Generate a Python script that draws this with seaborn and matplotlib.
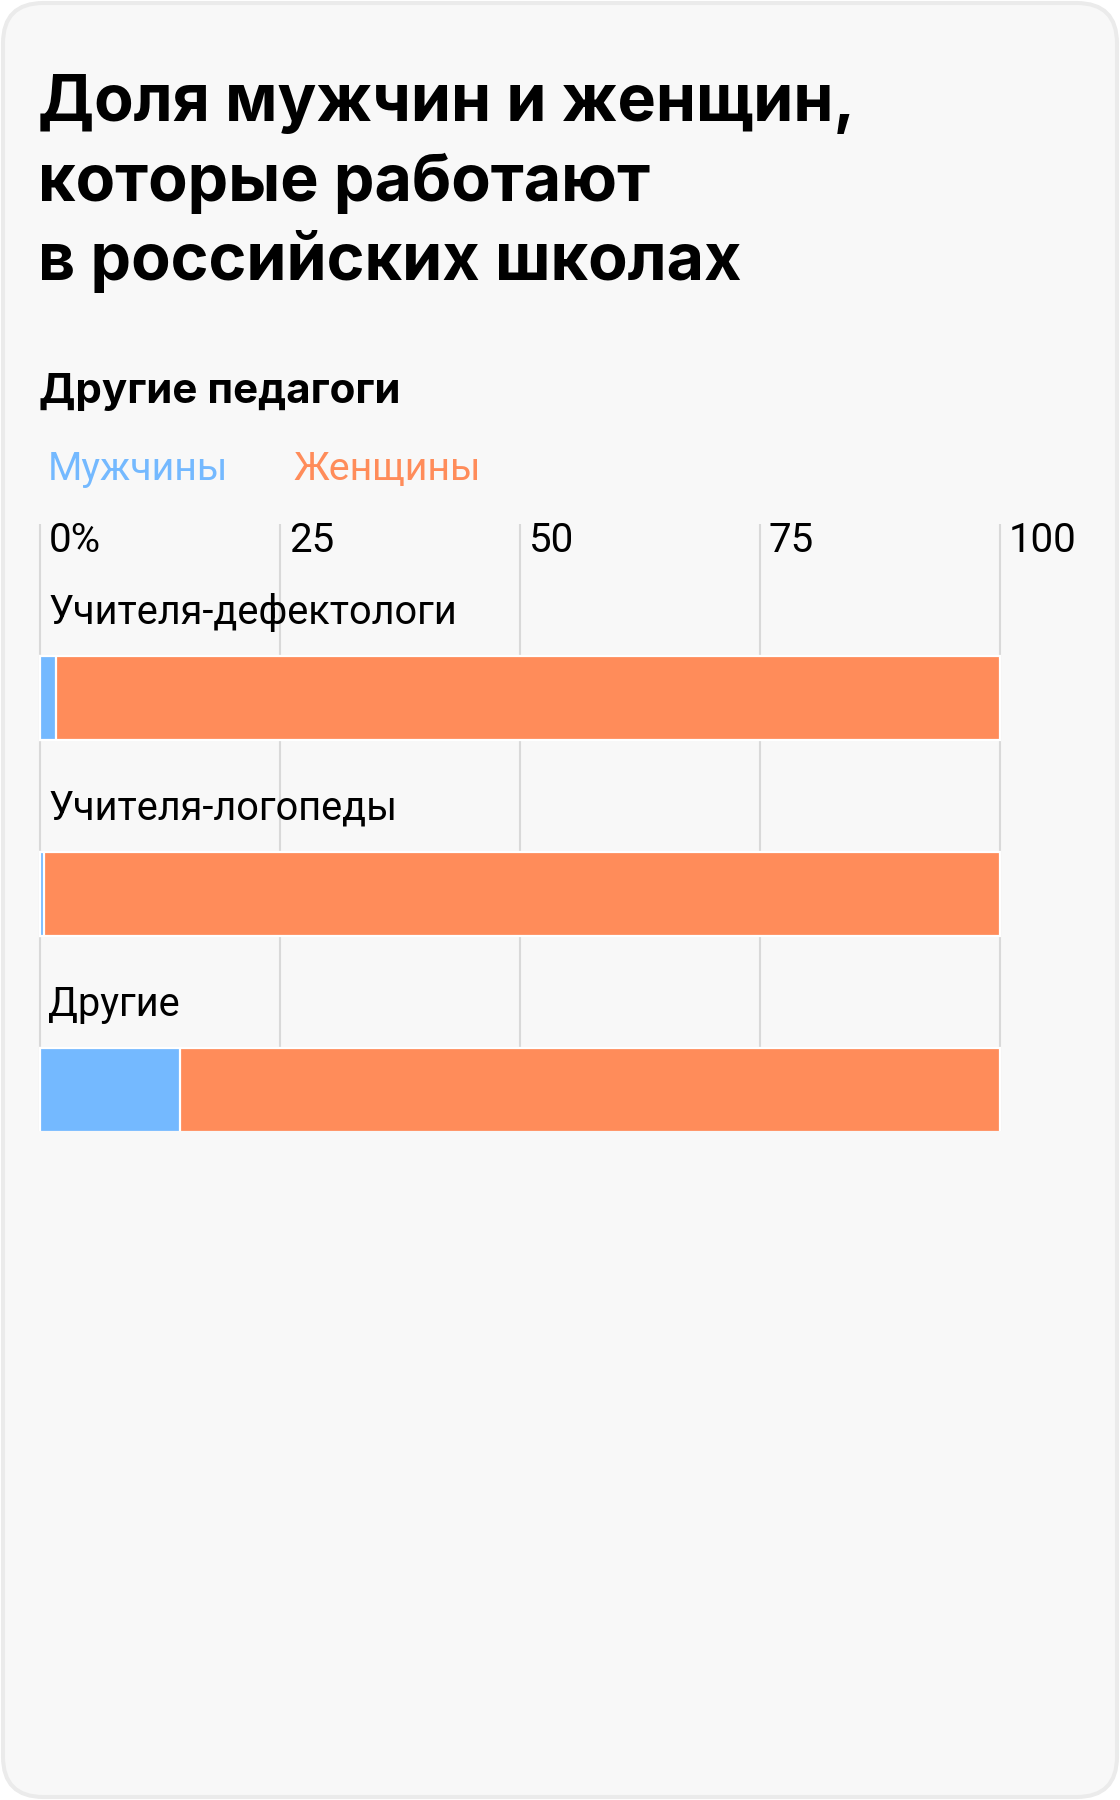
import matplotlib
matplotlib.use("Agg")
import matplotlib.pyplot as plt
import matplotlib.transforms as mtransforms
from matplotlib.patches import FancyBboxPatch
import seaborn as sns
import pandas as pd

# ---- data ----
categories = ["Учителя-дефектологи", "Учителя-логопеды", "Другие"]
men = [1.7, 0.4, 14.6]
women = [98.3, 99.6, 85.4]
tick_values = [0, 25, 50, 75, 100]
tick_labels = ["0%", "25", "50", "75", "100"]
title_lines = ["Доля мужчин и женщин,", "которые работают", "в российских школах"]
subtitle = "Другие педагоги"
legend_labels = ["Мужчины", "Женщины"]

BLUE = "#74B9FF"
ORANGE = "#FF8C5A"
GRID = "#D9D9D9"
BG = "#F8F8F8"

sns.set_theme(style="white")
plt.rcParams["font.family"] = ["Roboto", "DejaVu Sans"]

W, H, DPI = 1120, 1800, 100
fig = plt.figure(figsize=(W / DPI, H / DPI), dpi=DPI, facecolor="white")


def fx(px):
    return px / W


def fy(py):
    return 1 - py / H


# rounded card background
card = FancyBboxPatch((fx(3), fy(1797)), fx(1114), 1794 / H,
                      boxstyle="round,pad=0,rounding_size=0.036",
                      transform=fig.transFigure, facecolor=BG,
                      edgecolor="#EBEBEB", linewidth=2.9, mutation_aspect=W / H,
                      zorder=-10)
fig.patches.append(card)

# title
for i, line in enumerate(title_lines):
    fig.text(fx(38), fy(121 + 79.5 * i), line, fontsize=46.5, fontweight="bold",
             family=["Inter", "DejaVu Sans"], va="baseline", ha="left", color="black")

fig.text(fx(39), fy(403), subtitle, fontsize=30.3, fontweight="bold",
         family=["Inter", "DejaVu Sans"], va="baseline", ha="left", color="black")

fig.text(fx(48), fy(480), legend_labels[0], fontsize=28.4, color=BLUE,
         va="baseline", ha="left")
fig.text(fx(293), fy(480), legend_labels[1], fontsize=28.4, color=ORANGE,
         va="baseline", ha="left")

# axes geometry (pixels)
unit = 9.6          # px per percent
x0_px = 40          # x of 0
y_top, y_bot = 524, 1131
c0 = 698            # center of first bar
step = 196
xmin, xmax = -1.0, 101.0
left_px = x0_px + xmin * unit
right_px = x0_px + xmax * unit
ax = fig.add_axes([fx(left_px), fy(y_bot), (right_px - left_px) / W, (y_bot - y_top) / H])
ax.set_facecolor("none")

df = pd.DataFrame({"category": categories, "men": men, "women": women})
df["total"] = df["men"] + df["women"]

sns.barplot(data=df, x="total", y="category", orient="h", color=ORANGE,
            saturation=1, width=0.43, edgecolor="white", linewidth=1.6, ax=ax, zorder=3)
sns.barplot(data=df, x="men", y="category", orient="h", color=BLUE,
            saturation=1, width=0.43, edgecolor="white", linewidth=1.6, ax=ax, zorder=4)

ax.set_xlim(xmin, xmax)
ax.set_ylim((y_bot - c0) / step, (y_top - c0) / step)
ax.set_xticks(tick_values)
ax.set_xticklabels([])
ax.set_yticks([])
ax.tick_params(length=0)
ax.grid(axis="x", color=GRID, linewidth=1.5, zorder=0)
ax.grid(axis="y", visible=False)
ax.set_axisbelow(True)
ax.set_xlabel("")
ax.set_ylabel("")
for s in ax.spines.values():
    s.set_visible(False)

# tick labels on top
tick_tr = mtransforms.blended_transform_factory(ax.transData, fig.transFigure) + \
    mtransforms.ScaledTranslation(9 / DPI, 0, fig.dpi_scale_trans)
for v, lab in zip(tick_values, tick_labels):
    fig.text(v, fy(552), lab, transform=tick_tr, fontsize=29, color="black",
             va="baseline", ha="left")

# category labels above bars
lab_tr = ax.transData + mtransforms.ScaledTranslation(8 / DPI, 74 / DPI, fig.dpi_scale_trans)
for i, cat in enumerate(categories):
    ax.text(0, i, cat, transform=lab_tr, fontsize=28.6, color="black",
            va="baseline", ha="left", zorder=5)

fig.savefig("out.png", dpi=DPI, facecolor="white")
